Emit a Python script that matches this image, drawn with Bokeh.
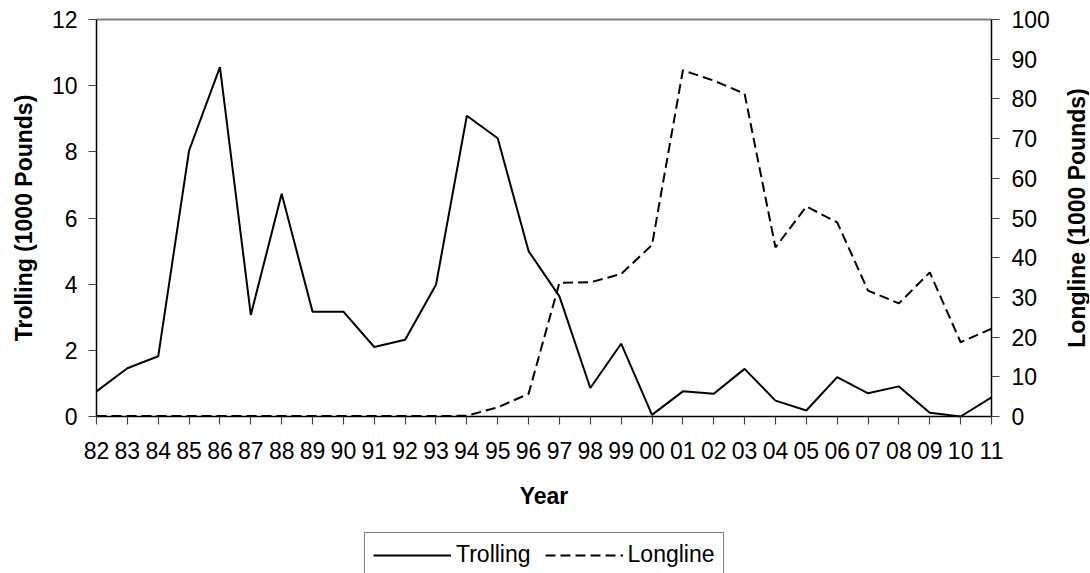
import math
from bokeh.plotting import figure
from bokeh.models import Range1d, LinearAxis, FixedTicker, Legend, LegendItem, Label
from bokeh.embed import file_html
from bokeh.resources import INLINE

years = ["82", "83", "84", "85", "86", "87", "88", "89", "90", "91",
         "92", "93", "94", "95", "96", "97", "98", "99", "00", "01",
         "02", "03", "04", "05", "06", "07", "08", "09", "10", "11"]
trolling = [0.76, 1.46, 1.82, 8.04, 10.56, 3.07, 6.73, 3.17, 3.17, 2.10,
            2.32, 3.98, 9.09, 8.41, 5.00, 3.63, 0.86, 2.20, 0.05, 0.76,
            0.69, 1.44, 0.48, 0.18, 1.19, 0.70, 0.91, 0.11, 0.00, 0.58]
longline = [0.1, 0.1, 0.1, 0.1, 0.1, 0.1, 0.1, 0.1, 0.1, 0.1,
            0.1, 0.1, 0.2, 2.3, 5.7, 33.7, 33.8, 35.9, 43.2, 87.2,
            84.6, 81.3, 42.6, 52.9, 48.9, 31.7, 28.5, 36.3, 18.7, 22.1]
left_ticks = [0, 2, 4, 6, 8, 10, 12]
right_ticks = [0, 10, 20, 30, 40, 50, 60, 70, 80, 90, 100]

FONT = "Liberation Sans"
FS = "23px"

# canvas / plot-area geometry (pixels)
W, H = 1089, 573
PL, PR, PT, PB = 96, 991, 19, 416
n = len(years)
LMAX, RMAX = left_ticks[-1], right_ticks[-1]
xpx = (PR - PL) / (n - 1)
ypx = (PB - PT) / LMAX
x = list(range(n))

p = figure(frame_width=W, frame_height=H, output_backend="svg", toolbar_location=None,
           x_range=Range1d(-PL / xpx, (n - 1) + (W - PR) / xpx),
           y_range=Range1d(-(H - PB) / ypx, LMAX + PT / ypx),
           min_border=0, background_fill_color="white", border_fill_color="white")
k = RMAX / LMAX
p.extra_y_ranges = {"ll": Range1d(-(H - PB) / ypx * k, (LMAX + PT / ypx) * k)}
p.outline_line_color = None
p.grid.visible = False

r1 = p.line(x, trolling, line_color="black", line_width=2)
r2 = p.line(x, longline, y_range_name="ll", line_color="black", line_width=2, line_dash="10 5")


def style(ax):
    ax.axis_line_color = "black"
    ax.axis_line_width = 1.5
    ax.major_tick_line_color = "#444444"
    ax.major_tick_line_width = 1.2
    ax.major_tick_out = 8
    ax.major_tick_in = 0
    ax.minor_tick_out = 0
    ax.minor_tick_in = 0
    ax.major_label_text_font = FONT
    ax.major_label_text_font_size = FS
    ax.major_label_text_color = "black"


xa = p.xaxis[0]
style(xa)
xa.ticker = FixedTicker(ticks=x)
xa.major_label_overrides = {i: y for i, y in enumerate(years)}
xa.major_label_standoff = 17
xa.fixed_location = 0
xa.bounds = (0, n - 1)

la = p.yaxis[0]
style(la)
la.ticker = FixedTicker(ticks=left_ticks)
la.bounds = (0, LMAX)
la.fixed_location = 0
la.major_label_standoff = 11

right = LinearAxis(y_range_name="ll")
p.add_layout(right, "right")
style(right)
right.ticker = FixedTicker(ticks=right_ticks)
right.bounds = (0, RMAX)
right.fixed_location = n - 1
right.major_label_standoff = 12

top = LinearAxis(ticker=FixedTicker(ticks=[]))
p.add_layout(top, "above")
top.fixed_location = LMAX
top.bounds = (0, n - 1)
top.axis_line_color = "#808080"
top.axis_line_width = 2
top.major_tick_line_color = None
top.minor_tick_line_color = None


def title_label(**kw):
    return Label(text_font=FONT, text_font_size=FS, text_font_style="bold", text_color="black",
                 text_align="center", text_baseline="middle", **kw)


p.add_layout(title_label(x=23, y=LMAX / 2, x_units="screen", y_units="data",
                         text="Trolling (1000 Pounds)", angle=math.pi / 2))
p.add_layout(title_label(x=1076, y=RMAX / 2, x_units="screen", y_units="data", y_range_name="ll",
                         text="Longline (1000 Pounds)", angle=math.pi / 2))
p.add_layout(title_label(x=(n - 1) / 2, y=78, x_units="data", y_units="screen", text="Year"))

legend = Legend(items=[LegendItem(label="Trolling", renderers=[r1]),
                       LegendItem(label="Longline", renderers=[r2])],
                orientation="horizontal", location=(364, -4),
                label_text_font=FONT, label_text_font_size=FS, label_text_color="black",
                glyph_width=78, glyph_height=20, label_standoff=5, spacing=14,
                padding=8, margin=0,
                border_line_color="black", border_line_width=1.2,
                background_fill_color="white", background_fill_alpha=1.0)
p.add_layout(legend, "center")

open("out.html", "w").write(file_html(p, INLINE))
